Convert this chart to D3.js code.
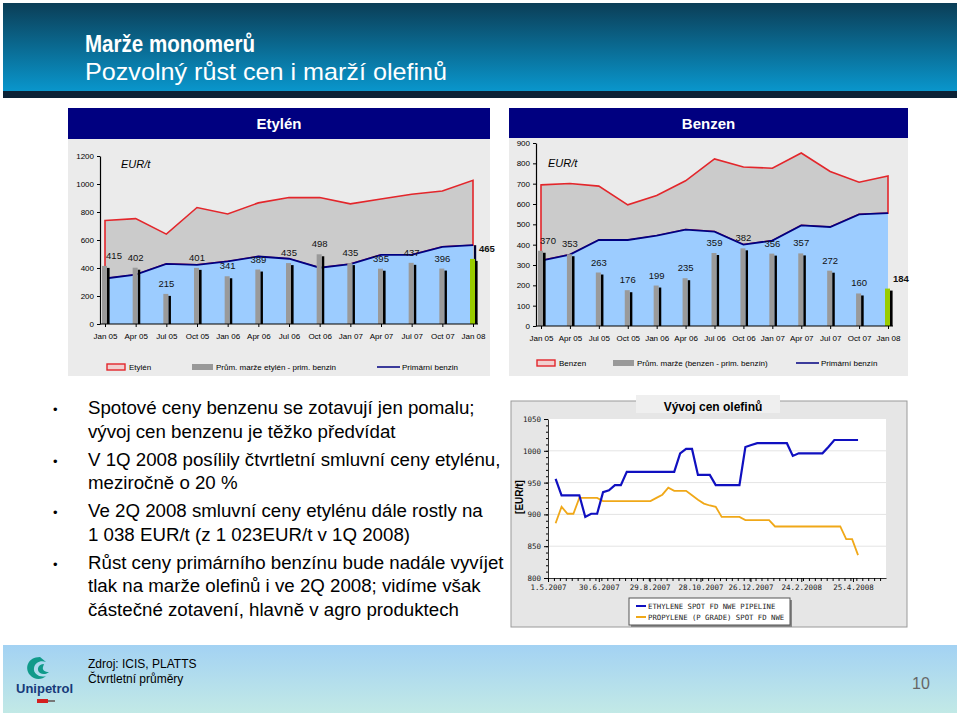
<!DOCTYPE html>
<html><head><meta charset="utf-8">
<script src="https://cdn.jsdelivr.net/npm/d3@7"></script>
<style>body{margin:0;background:#fff}svg{display:block}</style>
</head><body><svg id="c" width="960" height="716" font-family="Liberation Sans, Arial, sans-serif"></svg>
<script>
// ---------- DATA ----------
const quarters = ["Jan 05","Apr 05","Jul 05","Oct 05","Jan 06","Apr 06","Jul 06","Oct 06","Jan 07","Apr 07","Jul 07","Oct 07","Jan 08"];
const ethylenePrice = [739,753,642,832,786,865,903,903,858,893,927,950,1026];
const naphthaEthChart = [325,352,430,423,447,482,466,402,428,494,494,551,563];
const ethyleneMargin = [415,402,215,401,341,389,435,498,435,395,437,396,465];
const benzenePrice = [694,701,688,596,642,714,822,782,776,851,760,707,738];
const naphthaBenChart = [322,351,423,423,444,474,464,400,420,495,487,549,555];
const benzeneMargin = [370,353,263,176,199,235,359,382,356,357,272,160,184];
const ethyleneTicks = [0,200,400,600,800,1000,1200];
const benzeneTicks = [0,100,200,300,400,500,600,700,800,900];

const spotStart = "2007-05-10"; // weekly quotes
const ethyleneSpot = [956,930,930,930,930,896,901,901,935,938,946,946,967,967,967,967,967,967,967,967,967,996,1003,1003,962,962,962,946,946,946,946,946,1006,1009,1012,1012,1012,1012,1012,1012,992,996,996,996,996,996,1006,1017,1017,1017,1017,1017];
const propyleneSpot = [886,912,901,901,926,926,926,926,921,921,921,921,921,921,921,921,921,926,931,942,937,937,937,930,923,917,914,912,896,896,896,896,891,891,891,891,891,881,881,881,881,881,881,881,881,881,881,881,881,861,861,836];
const spotTickLabels = ["1.5.2007","30.6.2007","29.8.2007","28.10.2007","26.12.2007","24.2.2008","25.4.2008"];
const spotYTicks = [800,850,900,950,1000,1050];

const bullets = [
  ["Spotové ceny benzenu se zotavují jen pomalu;","vývoj cen benzenu je těžko předvídat"],
  ["V 1Q 2008 posílily čtvrtletní smluvní ceny etylénu,","meziročně o 20 %"],
  ["Ve 2Q 2008 smluvní ceny etylénu dále rostly na","1 038 EUR/t (z 1 023EUR/t v 1Q 2008)"],
  ["Růst ceny primárního benzínu bude nadále vyvíjet","tlak na marže olefinů i ve 2Q 2008; vidíme však","částečné zotavení, hlavně v agro produktech"]
];

// ---------- DRAW ----------
const svg = d3.select("#c");
const SANS = "Liberation Sans, Arial, sans-serif";
const defs = svg.append("defs");
const gb = defs.append("linearGradient").attr("id","ban").attr("x1",0).attr("y1",0).attr("x2",0).attr("y2",1);
gb.append("stop").attr("offset","0%").attr("stop-color","#0b3e57");
gb.append("stop").attr("offset","100%").attr("stop-color","#0996cc");
const gf = defs.append("linearGradient").attr("id","foot").attr("x1",0).attr("y1",0).attr("x2",0).attr("y2",1);
gf.append("stop").attr("offset","0%").attr("stop-color","#a3d2f3");
gf.append("stop").attr("offset","100%").attr("stop-color","#c2e9e6");

// banner
svg.append("rect").attr("x",3).attr("y",3).attr("width",954).attr("height",88).attr("fill","url(#ban)");
svg.append("rect").attr("x",3).attr("y",91).attr("width",954).attr("height",7).attr("fill","#0c2236");
svg.append("text").attr("x",85).attr("y",52).attr("fill","#fff").attr("font-size",24).attr("font-weight","bold")
  .attr("textLength",170).attr("lengthAdjust","spacingAndGlyphs").text("Marže monomerů");
svg.append("text").attr("x",85).attr("y",80).attr("fill","#fff").attr("font-size",24)
  .attr("textLength",362).attr("lengthAdjust","spacingAndGlyphs").text("Pozvolný růst cen i marží olefinů");

function panel(o){
  const g = svg.append("g");
  g.append("rect").attr("x",o.px).attr("y",o.tb+o.th).attr("width",o.pw).attr("height",376-(o.tb+o.th)).attr("fill","#ebebeb");
  g.append("rect").attr("x",o.px).attr("y",o.tb).attr("width",o.pw).attr("height",o.th).attr("fill","#000080");
  g.append("text").attr("x",o.px+o.pw/2).attr("y",o.tb+21).attr("text-anchor","middle").attr("fill","#fff")
    .attr("font-size",15).attr("font-weight","bold").text(o.title);
  const x = d3.scalePoint().domain(quarters).range(o.xr);
  const y = d3.scaleLinear().domain([0,o.ticks[o.ticks.length-1]]).range(o.yr);
  const X = (d,i)=>x(quarters[i]);
  g.append("path").datum(o.price)
    .attr("d", d3.area().x(X).y0((d,i)=>y(o.naph[i])).y1(d=>y(d)))
    .attr("fill","#cbcbcb").attr("stroke","#e3262b").attr("stroke-width",1.6);
  g.append("path").datum(o.naph)
    .attr("d", d3.area().x(X).y0(y(0)).y1(d=>y(d)))
    .attr("fill","#9cccff");
  g.append("path").datum(o.naph)
    .attr("d", d3.line().x(X).y(d=>y(d)))
    .attr("fill","none").attr("stroke","#000080").attr("stroke-width",1.8);
  if (o.dropEnd){
    const n = o.naph.length-1;
    g.append("line").attr("x1",X(0,n)+2).attr("x2",X(0,n)+2).attr("y1",y(o.naph[n])).attr("y2",y(0))
      .attr("stroke","#000030").attr("stroke-width",2.4);
  }
  const n = o.bars.length-1;
  g.selectAll(".sh").data(o.bars).join("rect")
    .attr("x",(d,i)=>X(d,i)+2).attr("width",2.6)
    .attr("y",d=>y(d)+2).attr("height",d=>y(0)-y(d)-2).attr("fill","#000");
  g.selectAll(".bb").data(o.bars).join("rect")
    .attr("x",(d,i)=>X(d,i)-3).attr("width",5)
    .attr("y",d=>y(d)).attr("height",d=>y(0)-y(d))
    .attr("fill",(d,i)=>i===n?"#99cc00":"#9a9a9a");
  g.selectAll(".lb").data(o.bars).join("text")
    .attr("x",(d,i)=>X(d,i)+(i===0?o.firstDx:(i===n?o.lastDx:0)))
    .attr("y",d=>y(d)-7)
    .attr("text-anchor",(d,i)=>i===n?"start":"middle")
    .attr("font-size",9.5).attr("font-weight",(d,i)=>i===n?"bold":"normal")
    .attr("fill","#111").text(d=>d);
  const ay = g.append("g").attr("transform",`translate(${o.ax},0)`)
    .call(d3.axisLeft(y).tickValues(o.ticks).tickSize(3).tickSizeOuter(0).tickPadding(3).tickFormat(d3.format("d")));
  ay.selectAll("text").attr("font-size",8).attr("font-family",SANS).attr("fill","#000");
  ay.select(".domain").attr("stroke","#000").attr("stroke-width",1.2);
  const ax = g.append("g").attr("transform",`translate(0,${y(0)})`)
    .call(d3.axisBottom(x).tickSize(3).tickSizeOuter(0).tickPadding(6));
  ax.select(".domain").attr("d",`M${o.ax},0H${o.xr[1]+5}`).attr("stroke","#000").attr("stroke-width",1.2);
  ax.selectAll("text").attr("font-size",8).attr("font-family",SANS).attr("fill","#000");
  g.append("text").attr("x",o.eurX).attr("y",o.eurY).attr("font-size",11).attr("font-style","italic").text("EUR/t");
  const lg = g.append("g").attr("font-size",8);
  const ly = o.ly;
  lg.append("rect").attr("x",o.leg[0]).attr("y",ly-3).attr("width",18).attr("height",6).attr("fill","#f0d0d0").attr("stroke","#e3262b").attr("stroke-width",1.4);
  lg.append("text").attr("x",o.leg[0]+22).attr("y",ly+3).text(o.legText[0]);
  lg.append("rect").attr("x",o.leg[1]).attr("y",ly-3).attr("width",21).attr("height",6).attr("fill","#999");
  lg.append("text").attr("x",o.leg[1]+24).attr("y",ly+3).text(o.legText[1]);
  lg.append("line").attr("x1",o.leg[2]).attr("x2",o.leg[2]+23).attr("y1",ly).attr("y2",ly).attr("stroke","#000080").attr("stroke-width",1.5);
  lg.append("text").attr("x",o.leg[2]+25).attr("y",ly+3).text(o.legText[2]);
}

panel({title:"Etylén", px:68, pw:422, tb:108, th:31, xr:[105,473], yr:[324,156], ticks:ethyleneTicks, ax:100,
  price:ethylenePrice, naph:naphthaEthChart, bars:ethyleneMargin, firstDx:9, lastDx:6, dropEnd:true,
  eurX:121, eurY:168, ly:367, leg:[107,192,377], legText:["Etylén","Prům. marže etylén - prim. benzin","Primární benzin"]});
panel({title:"Benzen", px:509, pw:399, tb:108, th:30, xr:[541,888], yr:[326,143], ticks:benzeneTicks, ax:536,
  price:benzenePrice, naph:naphthaBenChart, bars:benzeneMargin, firstDx:7, lastDx:5, dropEnd:false,
  eurX:548, eurY:167, ly:363, leg:[537,613,796], legText:["Benzen","Prům. marže (benzen - prim. benzín)","Primární benzín"]});

// bullets
const bl = svg.append("g").attr("font-size",18.7).attr("fill","#000");
let by = 414;
bullets.forEach(par=>{
  bl.append("text").attr("x",53).attr("y",by).attr("font-size",13).text("•");
  par.forEach((line,j)=>{
    bl.append("text").attr("x",88).attr("y",by+j*23.5).text(line);
  });
  by += par.length*23.5 + 4.5;
});

// olefin spot chart
const og = svg.append("g");
og.append("rect").attr("x",511).attr("y",401).attr("width",396).attr("height",226).attr("fill","#e6e6e6").attr("stroke","#9a9a9a");
og.append("rect").attr("x",636).attr("y",395).attr("width",144).attr("height",18).attr("fill","#efefef");
og.append("text").attr("x",713).attr("y",411).attr("text-anchor","middle").attr("font-size",12).attr("font-weight","bold").text("Vývoj cen olefinů");
const parse = d3.timeParse("%d.%m.%Y");
const sx = d3.scaleTime().domain([parse("1.5.2007"), parse("3.6.2008")]).range([548,886]);
const sy = d3.scaleLinear().domain([800,1050]).range([578,419]);
og.append("rect").attr("x",548).attr("y",419).attr("width",338).attr("height",159).attr("fill","#fff");
og.selectAll(".gl").data(spotYTicks.slice(1,-1)).join("line")
  .attr("x1",548).attr("x2",886).attr("y1",d=>sy(d)).attr("y2",d=>sy(d)).attr("stroke","#e4e4e4");
const d0 = d3.timeParse("%Y-%m-%d")(spotStart);
const dates = ethyleneSpot.map((d,i)=>d3.timeDay.offset(d0,7*i));
const MONO = "DejaVu Sans Mono, monospace";
const oy = og.append("g").attr("transform","translate(548,0)")
  .call(d3.axisLeft(sy).tickValues(spotYTicks).tickSize(4).tickSizeOuter(0).tickFormat(d3.format("d")));
oy.selectAll("text").attr("font-size",7.5).attr("font-family",MONO).attr("fill","#222");
og.append("g").attr("transform","translate(548,0)")
  .call(d3.axisLeft(sy).ticks(25).tickSize(2).tickFormat("")).select(".domain").remove();
const ox = og.append("g").attr("transform","translate(0,578)")
  .call(d3.axisBottom(sx).tickValues(spotTickLabels.map(parse)).tickSize(4).tickSizeOuter(0).tickFormat(d3.timeFormat("%-d.%-m.%Y")));
ox.selectAll("text").attr("font-size",7.5).attr("font-family",MONO).attr("fill","#222");
og.append("g").attr("transform","translate(0,578)")
  .call(d3.axisBottom(sx).tickValues(d3.timeDay.range(parse("1.5.2007"),parse("3.6.2008"),7)).tickSize(3).tickFormat("")).select(".domain").remove();
og.selectAll(".domain").attr("stroke","#333");
og.append("path").datum(propyleneSpot).attr("d",d3.line().x((d,i)=>sx(dates[i])).y(d=>sy(d)))
  .attr("fill","none").attr("stroke","#f0a818").attr("stroke-width",1.8);
og.append("path").datum(ethyleneSpot).attr("d",d3.line().x((d,i)=>sx(dates[i])).y(d=>sy(d)))
  .attr("fill","none").attr("stroke","#1010c0").attr("stroke-width",2.2);
og.append("text").attr("transform","translate(523,497) rotate(-90)").attr("text-anchor","middle")
  .attr("font-size",10).attr("font-weight","bold").text("[EUR/t]");
og.append("rect").attr("x",631).attr("y",600).attr("width",161).attr("height",27).attr("fill","#888");
og.append("rect").attr("x",629).attr("y",598).attr("width",161).attr("height",27).attr("fill","#fff").attr("stroke","#555");
[["ETHYLENE SPOT FD NWE PIPELINE","#1010c0"],["PROPYLENE (P GRADE) SPOT FD NWE","#f0a818"]].forEach((e,i)=>{
  og.append("line").attr("x1",636).attr("x2",646).attr("y1",606+i*11).attr("y2",606+i*11).attr("stroke",e[1]).attr("stroke-width",2);
  og.append("text").attr("x",648).attr("y",609+i*11).attr("font-size",7.3).attr("font-family",MONO).attr("fill","#222").text(e[0]);
});

// footer
svg.append("rect").attr("x",3).attr("y",645).attr("width",954).attr("height",68).attr("fill","url(#foot)");
const lo = svg.append("g");
lo.append("path").attr("d","M40,657 C28,657 24,668 30,675 C34,680 42,680 46,676 C40,678 33,674 34,668 C35,662 41,660 46,662 Z").attr("fill","#109a8a");
lo.append("path").attr("d","M44,664 C38,664 36,670 40,673 C43,675 47,674 49,672 C45,672 42,670 43,667 Z").attr("fill","#109a8a");
lo.append("text").attr("x",16).attr("y",693).attr("font-size",13).attr("font-weight","bold").attr("fill","#173a7a").text("Unipetrol");
lo.append("rect").attr("x",37).attr("y",699).attr("width",11).attr("height",4).attr("fill","#d42020");
lo.append("rect").attr("x",48).attr("y",700).attr("width",7).attr("height",2).attr("fill","#777");
svg.append("text").attr("x",88).attr("y",668).attr("font-size",12).text("Zdroj: ICIS, PLATTS");
svg.append("text").attr("x",88).attr("y",683).attr("font-size",12).text("Čtvrtletní průměry");
svg.append("text").attr("x",912).attr("y",689).attr("font-size",16).attr("fill","#666").text("10");
</script></body></html>
